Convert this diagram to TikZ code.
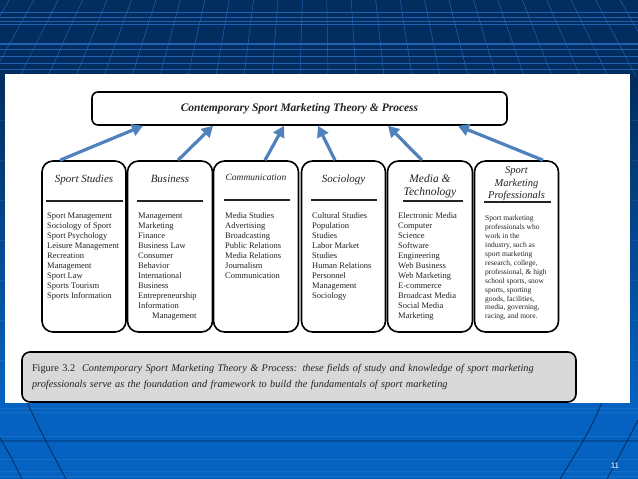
\documentclass[tikz,border=0pt]{standalone}
\usepackage{fontspec}
\setmainfont{Liberation Serif}
\newfontfamily\slidefont{Liberation Sans}
\usepackage{tikz}
\usetikzlibrary{arrows.meta,calc}
\definecolor{navy}{RGB}{2,45,94}
\definecolor{slideblue}{RGB}{5,98,193}
\definecolor{gridblue}{RGB}{40,110,200}
\definecolor{feedblue}{RGB}{79,129,189}
\definecolor{capgray}{RGB}{217,217,217}
\definecolor{inkgray}{RGB}{35,35,35}

\begin{document}
\begin{tikzpicture}[x=1pt,y=-1pt,
    colbox/.style={draw, line width=1.6pt, rounded corners=11pt, minimum width=84pt, minimum height=171pt, inner sep=0pt},
    headtxt/.style={font=\fontsize{11}{13}\selectfont\itshape, text=inkgray, inner sep=0pt, align=center},
    bodytxt/.style={font=\fontsize{8.5}{10}\selectfont, text=inkgray, inner sep=0pt, align=left, anchor=north west},
    headrule/.style={draw=inkgray, line width=1.1pt},
    feed/.style={draw=feedblue, line width=3.2pt, -{Triangle[length=11pt,width=12pt]}}]
  % slide background
  \useasboundingbox (0,0) rectangle (638,479);
  \fill[navy] (0,0) rectangle (638,80);
  \shade[top color=navy, bottom color=slideblue] (0,80) rectangle (638,400);
  \fill[slideblue] (0,400) rectangle (638,479);
  \begin{scope}
    \clip (0,0) rectangle (638,76);
    \foreach \gy/\gw in {12/0.4,17/0.4,21/0.4,24/0.4,44/1.3,49/0.4,56/0.4,63/0.4,69/0.4}
      \draw[gridblue, opacity=0.8, line width=\gw pt] (0,\gy) -- (638,\gy);
    \foreach \gx in {-120,-92,...,760}
      \draw[gridblue, opacity=0.8, line width=0.5pt] (\gx,76) -- ($(\gx,76)!0.13!(319,-520)$);
  \end{scope}
  \foreach \gy in {120,160,200,240,280,320,360,408,412,436,459,471,476}
    \draw[white, opacity=0.07, line width=0.8pt] (0,\gy) -- (638,\gy);
  \draw[navy, opacity=0.4, line width=1.2pt] (0,441) -- (638,441);
  \draw[navy, line width=0.8pt] (26,400) .. controls (40,430) .. (66,479);
  \draw[navy, line width=0.8pt] (0,438) .. controls (10,455) .. (22,479);
  \draw[navy, line width=0.8pt] (603,400) .. controls (590,430) .. (560,479);
  \draw[navy, line width=0.8pt] (638,420) .. controls (625,445) .. (607,479);
  \fill[white] (5,74) rectangle (630,403);

  % top box
  \node[draw, line width=1.6pt, rounded corners=6pt, minimum width=415pt, minimum height=33pt,
    font=\fontsize{11.5}{13}\selectfont\bfseries\itshape, text=inkgray] (theory) at (299.5,108.5)
    {Contemporary Sport Marketing Theory \& Process};

  % fields
  \node[colbox] (study) at (84,246.5) {};
  \node[colbox, minimum width=85pt] (business) at (170,246.5) {};
  \node[colbox, minimum width=85pt] (comm) at (256,246.5) {};
  \node[colbox] (socio) at (343.5,246.5) {};
  \node[colbox, minimum width=85pt] (media) at (430,246.5) {};
  \node[colbox] (pros) at (516.5,246.5) {};

  \node[headtxt, anchor=base] (study-h) at (84,182) {Sport Studies};
  \node[headtxt, anchor=base] (business-h) at (170,182) {Business};
  \node[headtxt, anchor=base, font=\fontsize{9.5}{11}\selectfont\itshape] (comm-h) at (256,180.5) {Communication};
  \node[headtxt, anchor=base] (socio-h) at (343.5,182) {Sociology};
  \node[headtxt, anchor=south, font=\fontsize{11.5}{13}\selectfont\itshape] (media-h) at (430,198) {Media \&\\Technology};
  \node[headtxt, anchor=south, font=\fontsize{10.5}{12.5}\selectfont\itshape] (pros-h) at (516.5,201) {Sport\\Marketing\\Professionals};

  \foreach \rx/\ry/\rw in {46/201/77,137/201/66,224/200/66,311/200/66,403/201/60,484/202/67}
    \draw[headrule] (\rx,\ry) -- ++(\rw,0);

  \node[bodytxt] (study-b) at (47,213) {Sport Management\\Sociology of Sport\\Sport Psychology\\Leisure Management\\Recreation\\Management\\Sport Law\\Sports Tourism\\Sports Information};
  \node[bodytxt] (business-b) at (138,213) {Management\\Marketing\\Finance\\Business Law\\Consumer\\Behavior\\International\\Business\\Entrepreneurship\\Information\\\hspace*{14pt}Management};
  \node[bodytxt] (comm-b) at (225,212) {Media Studies\\Advertising\\Broadcasting\\Public Relations\\Media Relations\\Journalism\\Communication};
  \node[bodytxt] (socio-b) at (312,212) {Cultural Studies\\Population\\Studies\\Labor Market\\Studies\\Human Relations\\Personnel\\Management\\Sociology};
  \node[bodytxt] (media-b) at (398,212) {Electronic Media\\Computer\\Science\\Software\\Engineering\\Web Business\\Web Marketing\\E-commerce\\Broadcast Media\\Social Media\\Marketing};
  \node[bodytxt, font=\fontsize{7.5}{8.9}\selectfont] (pros-b) at (485,215.5) {Sport marketing\\professionals who\\work in the\\industry, such as\\sport marketing\\research, college,\\professional, \& high\\school sports, snow\\sports, sporting\\goods, facilities,\\media, governing,\\racing, and more.};

  % fields feed the theory
  \foreach \src/\sx/\hx in {study/-24/-156.5,business/8/-86.5,comm/9/-15.5,socio/-8.5/18.5,media/-8/88.5,pros/26.5/158.5}
    \draw[feed] ([xshift=\sx pt]\src.north) -- ([xshift=\hx pt]theory.south);

  % caption
  \node[draw, fill=capgray, line width=1.6pt, rounded corners=8pt, minimum height=50pt,
    text width=534pt, inner xsep=10pt, align=left, text=inkgray,
    font=\fontsize{10.3}{16}\selectfont] (caption) at (299,377)
    {Figure 3.2~~\textit{Contemporary Sport Marketing Theory \& Process: these fields of study and knowledge of sport marketing}\\
     \textit{professionals serve as the foundation and framework to build the fundamentals of sport marketing}};

  \node[font=\slidefont\fontsize{8}{9}\selectfont, text=white] (pageno) at (615,466) {11};
\end{tikzpicture}
\end{document}
